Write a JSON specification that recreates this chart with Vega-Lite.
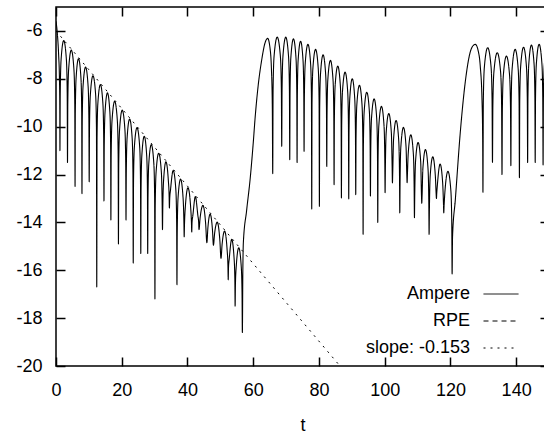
{
"$schema":"https://vega.github.io/schema/vega-lite/v6.json",
"width":493,"height":359,
"autosize":{"type":"none"},
"padding":{"left":56,"top":7,"right":-5,"bottom":68},
"background":"white",
"config":{
 "view":{"stroke":"black","strokeWidth":1.5},
 "font":"Liberation Sans",
 "axis":{"domain":false,"grid":false,"ticks":true,"tickColor":"black","tickWidth":1.5,"labelFont":"Liberation Sans","labelFontSize":18,"labelColor":"black","titleFont":"Liberation Sans","titleFontSize":18,"titleFontWeight":"normal","titleColor":"black","labelFlush":false,"labelOverlap":false,"labelExpr":"'' + datum.value"}
},
"data":{"values":[
{"s":"slope","t":0,"v":-6.0},{"s":"slope","t":86.4,"v":-20.0},
{"s":"Ampere","t":0,"v":-5.6},{"s":"Ampere","t":0.4,"v":-6.1},{"s":"Ampere","t":0.8,"v":-7.0},{"s":"Ampere","t":1.05,"v":-8.0},{"s":"Ampere","t":1.15,"v":-9.0},{"s":"Ampere","t":1.2,"v":-11.0},
{"s":"Ampere","t":1.29,"v":-8.6},{"s":"Ampere","t":1.55,"v":-7.2},{"s":"Ampere","t":2.35,"v":-6.4},{"s":"Ampere","t":3.16,"v":-7.2},{"s":"Ampere","t":3.41,"v":-8.6},{"s":"Ampere","t":3.5,"v":-11.5},
{"s":"Ampere","t":3.59,"v":-9.0},{"s":"Ampere","t":3.85,"v":-7.6},{"s":"Ampere","t":4.65,"v":-6.8},{"s":"Ampere","t":5.45,"v":-7.6},{"s":"Ampere","t":5.71,"v":-9.0},{"s":"Ampere","t":5.8,"v":-12.5},
{"s":"Ampere","t":5.88,"v":-9.36},{"s":"Ampere","t":6.12,"v":-7.96},{"s":"Ampere","t":6.85,"v":-7.16},{"s":"Ampere","t":7.59,"v":-7.96},{"s":"Ampere","t":7.82,"v":-9.36},{"s":"Ampere","t":7.9,"v":-12.8},
{"s":"Ampere","t":7.99,"v":-9.71},{"s":"Ampere","t":8.23,"v":-8.31},{"s":"Ampere","t":9.0,"v":-7.51},{"s":"Ampere","t":9.77,"v":-8.31},{"s":"Ampere","t":10.01,"v":-9.71},{"s":"Ampere","t":10.1,"v":-12.3},
{"s":"Ampere","t":10.19,"v":-10.07},{"s":"Ampere","t":10.45,"v":-8.67},{"s":"Ampere","t":11.25,"v":-7.87},{"s":"Ampere","t":12.06,"v":-8.67},{"s":"Ampere","t":12.31,"v":-10.07},{"s":"Ampere","t":12.4,"v":-16.7},
{"s":"Ampere","t":12.49,"v":-10.44},{"s":"Ampere","t":12.73,"v":-9.04},{"s":"Ampere","t":13.5,"v":-8.24},{"s":"Ampere","t":14.27,"v":-9.04},{"s":"Ampere","t":14.51,"v":-10.44},{"s":"Ampere","t":14.6,"v":-13.1},
{"s":"Ampere","t":14.68,"v":-10.79},{"s":"Ampere","t":14.92,"v":-9.39},{"s":"Ampere","t":15.65,"v":-8.59},{"s":"Ampere","t":16.39,"v":-9.39},{"s":"Ampere","t":16.62,"v":-10.79},{"s":"Ampere","t":16.7,"v":-13.9},
{"s":"Ampere","t":16.79,"v":-11.14},{"s":"Ampere","t":17.05,"v":-9.74},{"s":"Ampere","t":17.85,"v":-8.94},{"s":"Ampere","t":18.66,"v":-9.74},{"s":"Ampere","t":18.91,"v":-11.14},{"s":"Ampere","t":19.0,"v":-14.9},
{"s":"Ampere","t":19.09,"v":-11.51},{"s":"Ampere","t":19.35,"v":-10.11},{"s":"Ampere","t":20.15,"v":-9.31},{"s":"Ampere","t":20.96,"v":-10.11},{"s":"Ampere","t":21.21,"v":-11.51},{"s":"Ampere","t":21.3,"v":-13.9},
{"s":"Ampere","t":21.39,"v":-11.88},{"s":"Ampere","t":21.63,"v":-10.48},{"s":"Ampere","t":22.4,"v":-9.68},{"s":"Ampere","t":23.17,"v":-10.48},{"s":"Ampere","t":23.41,"v":-11.88},{"s":"Ampere","t":23.5,"v":-15.7},
{"s":"Ampere","t":23.59,"v":-12.24},{"s":"Ampere","t":23.85,"v":-10.84},{"s":"Ampere","t":24.65,"v":-10.04},{"s":"Ampere","t":25.46,"v":-10.84},{"s":"Ampere","t":25.71,"v":-12.24},{"s":"Ampere","t":25.8,"v":-15.3},
{"s":"Ampere","t":25.88,"v":-12.6},{"s":"Ampere","t":26.12,"v":-11.2},{"s":"Ampere","t":26.85,"v":-10.4},{"s":"Ampere","t":27.59,"v":-11.2},{"s":"Ampere","t":27.82,"v":-12.6},{"s":"Ampere","t":27.9,"v":-15.3},
{"s":"Ampere","t":27.99,"v":-12.95},{"s":"Ampere","t":28.23,"v":-11.55},{"s":"Ampere","t":29.0,"v":-10.75},{"s":"Ampere","t":29.77,"v":-11.55},{"s":"Ampere","t":30.01,"v":-12.95},{"s":"Ampere","t":30.1,"v":-17.2},
{"s":"Ampere","t":30.19,"v":-13.31},{"s":"Ampere","t":30.45,"v":-11.91},{"s":"Ampere","t":31.25,"v":-11.11},{"s":"Ampere","t":32.06,"v":-11.91},{"s":"Ampere","t":32.31,"v":-13.31},{"s":"Ampere","t":32.4,"v":-14.3},
{"s":"Ampere","t":32.48,"v":-13.5},{"s":"Ampere","t":32.72,"v":-12.27},{"s":"Ampere","t":33.45,"v":-11.47},{"s":"Ampere","t":34.19,"v":-12.27},{"s":"Ampere","t":34.42,"v":-12.9},{"s":"Ampere","t":34.5,"v":-13.4},
{"s":"Ampere","t":34.6,"v":-13.0},{"s":"Ampere","t":34.85,"v":-12.63},{"s":"Ampere","t":35.65,"v":-11.83},{"s":"Ampere","t":36.46,"v":-12.63},{"s":"Ampere","t":36.71,"v":-14.03},{"s":"Ampere","t":36.8,"v":-16.6},
{"s":"Ampere","t":36.89,"v":-14.39},{"s":"Ampere","t":37.13,"v":-12.99},{"s":"Ampere","t":37.9,"v":-12.19},{"s":"Ampere","t":38.67,"v":-12.99},{"s":"Ampere","t":38.92,"v":-14.0},{"s":"Ampere","t":39.0,"v":-14.6},
{"s":"Ampere","t":39.09,"v":-14.1},{"s":"Ampere","t":39.35,"v":-13.35},{"s":"Ampere","t":40.15,"v":-12.55},{"s":"Ampere","t":40.96,"v":-13.35},{"s":"Ampere","t":41.21,"v":-14.0},{"s":"Ampere","t":41.3,"v":-14.4},
{"s":"Ampere","t":41.39,"v":-14.0},{"s":"Ampere","t":41.63,"v":-13.72},{"s":"Ampere","t":42.4,"v":-12.92},{"s":"Ampere","t":43.17,"v":-13.72},{"s":"Ampere","t":43.41,"v":-14.0},{"s":"Ampere","t":43.5,"v":-14.3},
{"s":"Ampere","t":43.86,"v":-13.8},{"s":"Ampere","t":44.7,"v":-13.29},{"s":"Ampere","t":45.54,"v":-14.07},{"s":"Ampere","t":45.9,"v":-14.85},
{"s":"Ampere","t":46.2,"v":-14.25},{"s":"Ampere","t":46.9,"v":-13.65},{"s":"Ampere","t":47.6,"v":-14.3},{"s":"Ampere","t":47.9,"v":-14.95},
{"s":"Ampere","t":48.25,"v":-14.47},{"s":"Ampere","t":49.05,"v":-13.99},{"s":"Ampere","t":49.85,"v":-14.74},{"s":"Ampere","t":50.2,"v":-15.5},
{"s":"Ampere","t":50.53,"v":-14.93},{"s":"Ampere","t":51.3,"v":-14.36},{"s":"Ampere","t":52.07,"v":-15.16},{"s":"Ampere","t":52.31,"v":-15.8},{"s":"Ampere","t":52.4,"v":-16.4},
{"s":"Ampere","t":52.48,"v":-15.9},{"s":"Ampere","t":52.72,"v":-15.51},{"s":"Ampere","t":53.45,"v":-14.71},{"s":"Ampere","t":54.19,"v":-15.51},{"s":"Ampere","t":54.42,"v":-16.4},{"s":"Ampere","t":54.5,"v":-17.5},
{"s":"Ampere","t":54.59,"v":-16.6},{"s":"Ampere","t":54.83,"v":-15.86},{"s":"Ampere","t":55.6,"v":-15.06},{"s":"Ampere","t":56.37,"v":-15.86},{"s":"Ampere","t":56.61,"v":-17.0},{"s":"Ampere","t":56.7,"v":-18.6},
{"s":"Ampere","t":56.85,"v":-16.0},{"s":"Ampere","t":57.0,"v":-14.86},{"s":"Ampere","t":58.0,"v":-13.5},{"s":"Ampere","t":59.06,"v":-12.2},{"s":"Ampere","t":60.0,"v":-10.7},{"s":"Ampere","t":60.6,"v":-9.6},{"s":"Ampere","t":61.5,"v":-8.3},{"s":"Ampere","t":62.6,"v":-7.2},{"s":"Ampere","t":63.6,"v":-6.5},{"s":"Ampere","t":64.4,"v":-6.31},{"s":"Ampere","t":65.1,"v":-6.7},{"s":"Ampere","t":65.55,"v":-7.6},{"s":"Ampere","t":65.82,"v":-9.2},{"s":"Ampere","t":65.94,"v":-11.96},
{"s":"Ampere","t":66.05,"v":-8.46},{"s":"Ampere","t":66.35,"v":-7.06},{"s":"Ampere","t":67.31,"v":-6.26},{"s":"Ampere","t":68.27,"v":-7.06},{"s":"Ampere","t":68.57,"v":-8.46},{"s":"Ampere","t":68.68,"v":-10.82},
{"s":"Ampere","t":68.78,"v":-8.46},{"s":"Ampere","t":69.05,"v":-7.06},{"s":"Ampere","t":69.9,"v":-6.26},{"s":"Ampere","t":70.75,"v":-7.06},{"s":"Ampere","t":71.02,"v":-8.46},{"s":"Ampere","t":71.12,"v":-11.38},
{"s":"Ampere","t":71.21,"v":-8.53},{"s":"Ampere","t":71.45,"v":-7.13},{"s":"Ampere","t":72.24,"v":-6.33},{"s":"Ampere","t":73.02,"v":-7.13},{"s":"Ampere","t":73.26,"v":-8.53},{"s":"Ampere","t":73.35,"v":-11.5},
{"s":"Ampere","t":73.44,"v":-8.63},{"s":"Ampere","t":73.67,"v":-7.23},{"s":"Ampere","t":74.42,"v":-6.43},{"s":"Ampere","t":75.16,"v":-7.23},{"s":"Ampere","t":75.39,"v":-8.63},{"s":"Ampere","t":75.48,"v":-11.03},
{"s":"Ampere","t":75.57,"v":-8.76},{"s":"Ampere","t":75.83,"v":-7.36},{"s":"Ampere","t":76.65,"v":-6.56},{"s":"Ampere","t":77.46,"v":-7.36},{"s":"Ampere","t":77.72,"v":-8.76},{"s":"Ampere","t":77.81,"v":-13.44},
{"s":"Ampere","t":77.9,"v":-8.97},{"s":"Ampere","t":78.16,"v":-7.57},{"s":"Ampere","t":78.98,"v":-6.77},{"s":"Ampere","t":79.79,"v":-7.57},{"s":"Ampere","t":80.05,"v":-8.97},{"s":"Ampere","t":80.14,"v":-13.33},
{"s":"Ampere","t":80.23,"v":-9.2},{"s":"Ampere","t":80.48,"v":-7.8},{"s":"Ampere","t":81.26,"v":-7.0},{"s":"Ampere","t":82.04,"v":-7.8},{"s":"Ampere","t":82.29,"v":-9.2},{"s":"Ampere","t":82.38,"v":-11.66},
{"s":"Ampere","t":82.47,"v":-9.43},{"s":"Ampere","t":82.71,"v":-8.03},{"s":"Ampere","t":83.5,"v":-7.23},{"s":"Ampere","t":84.28,"v":-8.03},{"s":"Ampere","t":84.52,"v":-9.43},{"s":"Ampere","t":84.61,"v":-12.42},
{"s":"Ampere","t":84.7,"v":-9.67},{"s":"Ampere","t":84.94,"v":-8.27},{"s":"Ampere","t":85.73,"v":-7.47},{"s":"Ampere","t":86.51,"v":-8.27},{"s":"Ampere","t":86.75,"v":-9.67},{"s":"Ampere","t":86.84,"v":-12.98},
{"s":"Ampere","t":86.93,"v":-9.92},{"s":"Ampere","t":87.17,"v":-8.52},{"s":"Ampere","t":87.96,"v":-7.72},{"s":"Ampere","t":88.74,"v":-8.52},{"s":"Ampere","t":88.98,"v":-9.92},{"s":"Ampere","t":89.07,"v":-13.02},
{"s":"Ampere","t":89.16,"v":-10.2},{"s":"Ampere","t":89.39,"v":-8.8},{"s":"Ampere","t":90.14,"v":-8.0},{"s":"Ampere","t":90.88,"v":-8.8},{"s":"Ampere","t":91.11,"v":-10.2},{"s":"Ampere","t":91.2,"v":-12.84},
{"s":"Ampere","t":91.29,"v":-10.47},{"s":"Ampere","t":91.54,"v":-9.07},{"s":"Ampere","t":92.32,"v":-8.27},{"s":"Ampere","t":93.1,"v":-9.07},{"s":"Ampere","t":93.35,"v":-10.47},{"s":"Ampere","t":93.44,"v":-14.5},
{"s":"Ampere","t":93.53,"v":-10.76},{"s":"Ampere","t":93.77,"v":-9.36},{"s":"Ampere","t":94.56,"v":-8.56},{"s":"Ampere","t":95.34,"v":-9.36},{"s":"Ampere","t":95.58,"v":-10.76},{"s":"Ampere","t":95.67,"v":-12.9},
{"s":"Ampere","t":95.76,"v":-11.04},{"s":"Ampere","t":96.0,"v":-9.64},{"s":"Ampere","t":96.79,"v":-8.84},{"s":"Ampere","t":97.57,"v":-9.64},{"s":"Ampere","t":97.81,"v":-11.04},{"s":"Ampere","t":97.9,"v":-14.0},
{"s":"Ampere","t":97.99,"v":-11.35},{"s":"Ampere","t":98.23,"v":-9.95},{"s":"Ampere","t":99.02,"v":-9.15},{"s":"Ampere","t":99.8,"v":-9.95},{"s":"Ampere","t":100.04,"v":-11.35},{"s":"Ampere","t":100.13,"v":-12.76},
{"s":"Ampere","t":100.22,"v":-11.65},{"s":"Ampere","t":100.46,"v":-10.25},{"s":"Ampere","t":101.25,"v":-9.45},{"s":"Ampere","t":102.03,"v":-10.25},{"s":"Ampere","t":102.27,"v":-11.65},{"s":"Ampere","t":102.36,"v":-12.35},
{"s":"Ampere","t":102.45,"v":-11.94},{"s":"Ampere","t":102.7,"v":-10.54},{"s":"Ampere","t":103.48,"v":-9.74},{"s":"Ampere","t":104.26,"v":-10.54},{"s":"Ampere","t":104.51,"v":-11.94},{"s":"Ampere","t":104.6,"v":-13.6},
{"s":"Ampere","t":104.69,"v":-12.23},{"s":"Ampere","t":104.93,"v":-10.83},{"s":"Ampere","t":105.72,"v":-10.03},{"s":"Ampere","t":106.5,"v":-10.83},{"s":"Ampere","t":106.74,"v":-12.0},{"s":"Ampere","t":106.83,"v":-12.34},
{"s":"Ampere","t":106.92,"v":-12.0},{"s":"Ampere","t":107.16,"v":-11.14},{"s":"Ampere","t":107.95,"v":-10.34},{"s":"Ampere","t":108.73,"v":-11.14},{"s":"Ampere","t":108.97,"v":-12.54},{"s":"Ampere","t":109.06,"v":-13.8},
{"s":"Ampere","t":109.15,"v":-12.86},{"s":"Ampere","t":109.39,"v":-11.46},{"s":"Ampere","t":110.18,"v":-10.66},{"s":"Ampere","t":110.96,"v":-11.46},{"s":"Ampere","t":111.2,"v":-12.86},{"s":"Ampere","t":111.29,"v":-13.2},
{"s":"Ampere","t":111.38,"v":-12.9},{"s":"Ampere","t":111.62,"v":-11.76},{"s":"Ampere","t":112.41,"v":-10.96},{"s":"Ampere","t":113.19,"v":-11.76},{"s":"Ampere","t":113.43,"v":-13.16},{"s":"Ampere","t":113.52,"v":-14.5},
{"s":"Ampere","t":113.61,"v":-13.46},{"s":"Ampere","t":113.85,"v":-12.06},{"s":"Ampere","t":114.64,"v":-11.26},{"s":"Ampere","t":115.42,"v":-12.06},{"s":"Ampere","t":115.66,"v":-12.8},{"s":"Ampere","t":115.75,"v":-13.0},
{"s":"Ampere","t":115.84,"v":-12.8},{"s":"Ampere","t":116.08,"v":-12.36},{"s":"Ampere","t":116.87,"v":-11.56},{"s":"Ampere","t":117.65,"v":-12.36},{"s":"Ampere","t":117.89,"v":-13.2},{"s":"Ampere","t":117.98,"v":-13.6},
{"s":"Ampere","t":118.08,"v":-13.3},{"s":"Ampere","t":118.36,"v":-12.67},{"s":"Ampere","t":119.25,"v":-11.87},{"s":"Ampere","t":120.14,"v":-12.67},{"s":"Ampere","t":120.42,"v":-14.07},{"s":"Ampere","t":120.52,"v":-16.15},
{"s":"Ampere","t":120.65,"v":-14.6},{"s":"Ampere","t":121.5,"v":-13.05},{"s":"Ampere","t":123.0,"v":-10.25},{"s":"Ampere","t":124.5,"v":-8.16},{"s":"Ampere","t":126.0,"v":-6.9},{"s":"Ampere","t":127.0,"v":-6.6},{"s":"Ampere","t":127.6,"v":-6.56},{"s":"Ampere","t":128.4,"v":-6.8},{"s":"Ampere","t":129.1,"v":-7.5},{"s":"Ampere","t":129.6,"v":-8.8},{"s":"Ampere","t":129.82,"v":-10.5},{"s":"Ampere","t":129.9,"v":-12.74},
{"s":"Ampere","t":130.02,"v":-8.9},{"s":"Ampere","t":130.34,"v":-7.5},{"s":"Ampere","t":131.35,"v":-6.7},{"s":"Ampere","t":132.37,"v":-7.5},{"s":"Ampere","t":132.68,"v":-8.9},{"s":"Ampere","t":132.8,"v":-11.49},
{"s":"Ampere","t":132.92,"v":-9.11},{"s":"Ampere","t":133.24,"v":-7.71},{"s":"Ampere","t":134.25,"v":-6.91},{"s":"Ampere","t":135.27,"v":-7.71},{"s":"Ampere","t":135.58,"v":-9.11},{"s":"Ampere","t":135.7,"v":-12.0},
{"s":"Ampere","t":135.81,"v":-9.25},{"s":"Ampere","t":136.11,"v":-7.85},{"s":"Ampere","t":137.05,"v":-7.05},{"s":"Ampere","t":138.0,"v":-7.85},{"s":"Ampere","t":138.29,"v":-9.25},{"s":"Ampere","t":138.4,"v":-11.63},
{"s":"Ampere","t":138.5,"v":-8.97},{"s":"Ampere","t":138.79,"v":-7.57},{"s":"Ampere","t":139.7,"v":-6.77},{"s":"Ampere","t":140.61,"v":-7.57},{"s":"Ampere","t":140.9,"v":-8.97},{"s":"Ampere","t":141.0,"v":-12.13},
{"s":"Ampere","t":141.1,"v":-8.88},{"s":"Ampere","t":141.38,"v":-7.48},{"s":"Ampere","t":142.25,"v":-6.68},{"s":"Ampere","t":143.13,"v":-7.48},{"s":"Ampere","t":143.4,"v":-8.88},{"s":"Ampere","t":143.5,"v":-11.5},
{"s":"Ampere","t":143.59,"v":-8.79},{"s":"Ampere","t":143.85,"v":-7.39},{"s":"Ampere","t":144.65,"v":-6.59},{"s":"Ampere","t":145.46,"v":-7.39},{"s":"Ampere","t":145.71,"v":-8.79},{"s":"Ampere","t":145.8,"v":-11.5},
{"s":"Ampere","t":145.9,"v":-8.76},{"s":"Ampere","t":146.16,"v":-7.36},{"s":"Ampere","t":147.0,"v":-6.56},{"s":"Ampere","t":147.84,"v":-7.36},{"s":"Ampere","t":148.1,"v":-8.76},{"s":"Ampere","t":148.2,"v":-11.6},
{"s":"Ampere","t":148.3,"v":-8.8},{"s":"Ampere","t":148.6,"v":-7.4},{"s":"Ampere","t":149.4,"v":-6.6},{"s":"Ampere","t":150,"v":-7.0}
]},
"layer":[
{
 "transform":[{"filter":"datum.s == 'Ampere'"}],
 "mark":{"type":"line","color":"black","strokeWidth":1.1,"interpolate":"monotone","clip":true},
 "encoding":{
  "x":{"field":"t","type":"quantitative","scale":{"domain":[0,150],"nice":false,"zero":false},"axis":{"orient":"bottom","values":[0,20,40,60,80,100,120,140],"title":"t","tickSize":-9,"labelPadding":24,"titlePadding":17}},
  "y":{"field":"v","type":"quantitative","scale":{"domain":[-20,-5],"nice":false,"zero":false},"axis":{"orient":"left","values":[-20,-18,-16,-14,-12,-10,-8,-6],"title":null,"tickSize":-9,"labelPadding":23}},
  "strokeDash":{"datum":"Ampere","type":"nominal","scale":{"domain":["Ampere","RPE","slope: -0.153"],"range":[[1,0],[5,4],[2,5]]},
   "legend":{"title":null,"orient":"none","legendX":427,"legendY":269,"symbolType":"stroke","symbolSize":1225,"symbolStrokeWidth":1,"symbolStrokeColor":"black","labelAlign":"right","labelOffset":-49,"labelFont":"Liberation Sans","labelFontSize":18,"labelColor":"black","labelLimit":400,"padding":0,"rowPadding":-5.5}}
 }},
{
 "transform":[{"filter":"datum.s == 'slope'"}],
 "mark":{"type":"line","color":"black","strokeWidth":1,"clip":true},
 "encoding":{
  "x":{"field":"t","type":"quantitative","axis":{"orient":"top","labels":false,"values":[0,20,40,60,80,100,120,140],"title":null,"tickSize":-9}},
  "y":{"field":"v","type":"quantitative","axis":{"orient":"right","labels":false,"values":[-20,-18,-16,-14,-12,-10,-8,-6],"title":null,"tickSize":-9}},
  "strokeDash":{"datum":"slope: -0.153","type":"nominal"}
 }}
],
"resolve":{"axis":{"x":"independent","y":"independent"}}
}
